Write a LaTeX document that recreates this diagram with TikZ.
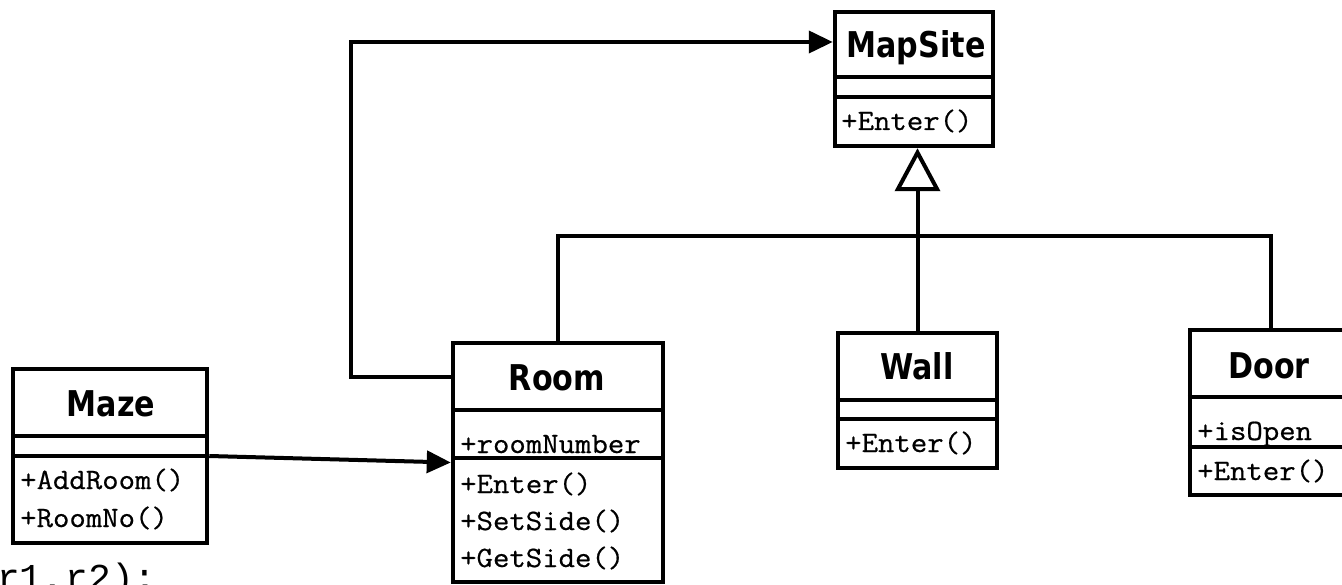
\documentclass[tikz,border=0pt]{standalone}
\usepackage{fontspec}
\usetikzlibrary{arrows.meta}
\newfontfamily\titlefont[FakeStretch=0.85]{DejaVu Sans}
\newfontfamily\memberfont[FakeStretch=1.08,FakeBold=0.6]{Latin Modern Mono}
\newfontfamily\codefont{Liberation Mono}
\begin{document}
\begin{tikzpicture}[x=1pt,y=-1pt,
  classbox/.style={draw, line width=4.5pt, rectangle, inner sep=0pt},
  divider/.style={line width=4pt},
  title/.style={font=\titlefont\bfseries\fontsize{35.5}{40}\selectfont, anchor=base, inner sep=0pt},
  member/.style={font=\memberfont\fontsize{29.5}{32}\selectfont, anchor=base west, inner sep=0pt},
  conn/.style={line width=4pt},
  assoc/.style={conn, -{Triangle[length=24pt,width=22pt]}},
  gen/.style={conn, -{Triangle[open,length=43pt,width=45pt]}},
]
\fill[white] (0,0) rectangle (1342,585);
\useasboundingbox (0,0) rectangle (1342,585);

% Maze
\node[classbox, minimum width=194pt, minimum height=174pt] (maze) at (110,456) {};
\draw[divider] (maze.west |- 0,436) -- (maze.east |- 0,436);
\draw[divider] (maze.west |- 0,456) -- (maze.east |- 0,456);
\node[title] (mazeT) at (111,417) {Maze};
\node[member] (mazeM1) at (20,489) {+AddRoom()};
\node[member] (mazeM2) at (20,527) {+RoomNo()};

% Room
\node[classbox, minimum width=210pt, minimum height=239pt] (room) at (558,462.5) {};
\draw[divider] (room.west |- 0,410) -- (room.east |- 0,410);
\draw[divider] (room.west |- 0,458) -- (room.east |- 0,458);
\node[title] (roomT) at (557,391) {Room};
\node[member] (roomA1) at (460,453) {+roomNumber};
\node[member] (roomM1) at (460,493) {+Enter()};
\node[member] (roomM2) at (460,530) {+SetSide()};
\node[member] (roomM3) at (460,567) {+GetSide()};

% MapSite
\node[classbox, minimum width=158pt, minimum height=134pt] (mapsite) at (914,79) {};
\draw[divider] (mapsite.west |- 0,77) -- (mapsite.east |- 0,77);
\draw[divider] (mapsite.west |- 0,97) -- (mapsite.east |- 0,97);
\node[title] (mapsiteT) at (916,58) {MapSite};
\node[member] (mapsiteM1) at (841,130) {+Enter()};

% Wall
\node[classbox, minimum width=159pt, minimum height=135pt] (wall) at (917.5,400.5) {};
\draw[divider] (wall.west |- 0,400) -- (wall.east |- 0,400);
\draw[divider] (wall.west |- 0,419) -- (wall.east |- 0,419);
\node[title] (wallT) at (917,380) {Wall};
\node[member] (wallM1) at (845,452) {+Enter()};

% Door
\node[classbox, minimum width=162pt, minimum height=165pt] (door) at (1271,412.5) {};
\draw[divider] (door.west |- 0,397) -- (door.east |- 0,397);
\draw[divider] (door.west |- 0,447) -- (door.east |- 0,447);
\node[title] (doorT) at (1269,378) {Door};
\node[member] (doorA1) at (1197,440) {+isOpen};
\node[member] (doorM1) at (1197,480) {+Enter()};

% associations
\draw[assoc] (maze.east) -- (room.west);
\draw[assoc] ([yshift=85.5pt]room.west) -- ++(-100,0) |- ([yshift=37pt]mapsite.west);

% generalization
\coordinate (hub) at (wall.north |- 0,236);
\draw[conn] (room.north) |- (hub);
\draw[conn] (door.north) |- (hub);
\draw[gen] (wall.north) -- (wall.north |- mapsite.south);

% code fragment
\node[font=\codefont\fontsize{38}{40}\selectfont, anchor=base west, inner sep=0pt] (code) at (-3,590) {r1,r2);};
\end{tikzpicture}
\end{document}
